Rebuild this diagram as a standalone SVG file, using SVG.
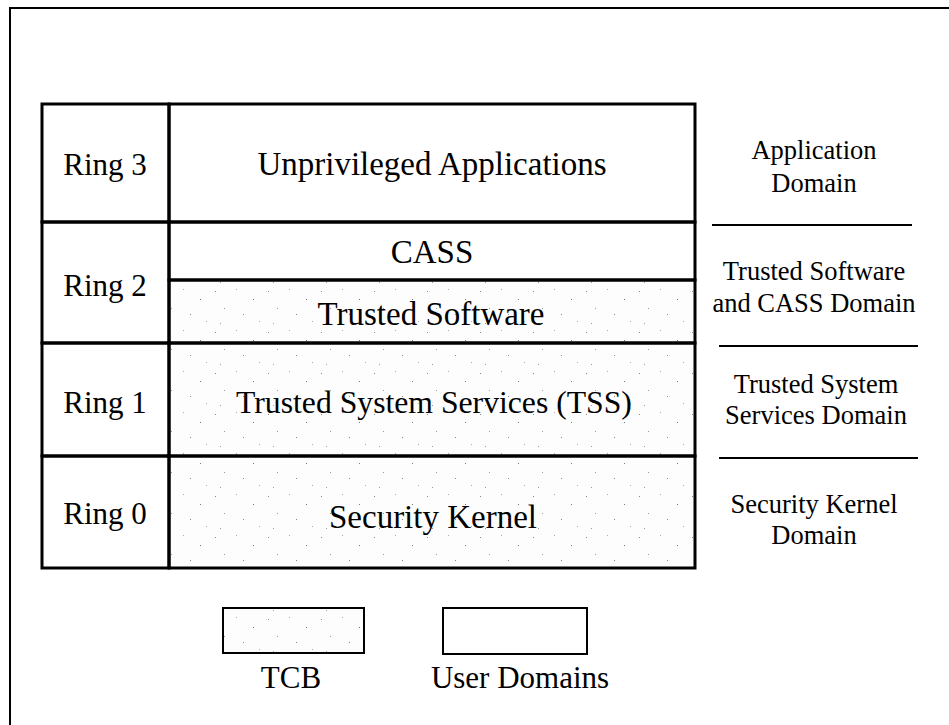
<svg xmlns="http://www.w3.org/2000/svg" width="949" height="725" viewBox="0 0 949 725">
  <style>
    text { font-family: "Liberation Serif", "Times New Roman", serif; fill: #000; text-anchor: middle; }
    .big { font-size: 31px; }
    .mid { font-size: 33px; }
    .side { font-size: 26.5px; }
    .cell { fill: none; stroke: #000; stroke-width: 3; }
    .thin { fill: none; stroke: #000; stroke-width: 2; }
    .tcb { fill: url(#speckle); }
    .tcb-key { fill: url(#speckle); stroke: #000; stroke-width: 2; }
  </style>
  <defs>
    <!-- sparse grey stipple used for the trusted computing base -->
    <pattern id="speckle" width="53" height="41" patternUnits="userSpaceOnUse">
      <rect width="53" height="41" fill="#fdfdfd"/>
      <rect x="3" y="4" width="1" height="1" fill="#888"/>
      <rect x="24" y="2" width="1" height="1" fill="#aaa"/>
      <rect x="41" y="12" width="1" height="1" fill="#777"/>
      <rect x="12" y="21" width="1" height="1" fill="#999"/>
      <rect x="31" y="27" width="1" height="1" fill="#888"/>
      <rect x="47" y="34" width="1" height="1" fill="#aaa"/>
      <rect x="8" y="36" width="1" height="1" fill="#999"/>
    </pattern>
  </defs>

  <!-- page frame -->
  <path d="M10 725 V8 H949" class="thin"/>

  <!-- shaded TCB layers -->
  <rect x="169" y="280" width="526" height="288" class="tcb"/>

  <g id="ring3">
    <rect x="42" y="104" width="127" height="118" class="cell"/>
    <text x="105" y="175" class="big">Ring 3</text>
  </g>
  <g id="apps">
    <rect x="169" y="104" width="526" height="118" class="cell"/>
    <text x="432" y="175" class="mid">Unprivileged Applications</text>
  </g>
  <g id="ring2">
    <rect x="42" y="222" width="127" height="121" class="cell"/>
    <text x="105" y="296" class="big">Ring 2</text>
  </g>
  <g id="cass">
    <rect x="169" y="222" width="526" height="58" class="cell"/>
    <text x="432" y="263" class="mid">CASS</text>
  </g>
  <g id="trusted-software">
    <rect x="169" y="280" width="526" height="63" class="cell"/>
    <text x="431" y="325" class="mid">Trusted Software</text>
  </g>
  <g id="ring1">
    <rect x="42" y="343" width="127" height="113" class="cell"/>
    <text x="105" y="413" class="big">Ring 1</text>
  </g>
  <g id="tss">
    <rect x="169" y="343" width="526" height="113" class="cell"/>
    <text x="434" y="413" font-size="31.7">Trusted System Services (TSS)</text>
  </g>
  <g id="ring0">
    <rect x="42" y="456" width="127" height="112" class="cell"/>
    <text x="105" y="524" class="big">Ring 0</text>
  </g>
  <g id="kernel">
    <rect x="169" y="456" width="526" height="112" class="cell"/>
    <text x="433" y="528" class="mid">Security Kernel</text>
  </g>

  <!-- domain labels -->
  <g id="application-domain">
    <text x="814" y="159" class="side">Application</text>
    <text x="814" y="192" class="side">Domain</text>
  </g>
  <g id="software-domain">
    <text x="814" y="280" class="side">Trusted Software</text>
    <text x="814" y="312" class="side">and CASS Domain</text>
  </g>
  <g id="tss-domain">
    <text x="816" y="393" class="side">Trusted System</text>
    <text x="816" y="424" class="side">Services Domain</text>
  </g>
  <g id="kernel-domain">
    <text x="814" y="513" class="side">Security Kernel</text>
    <text x="814" y="544" class="side">Domain</text>
  </g>

  <!-- domain separators -->
  <g id="connectors">
    <line x1="712" y1="225" x2="912" y2="225" class="thin"/>
    <line x1="719" y1="346" x2="918" y2="346" class="thin"/>
    <line x1="719" y1="458" x2="918" y2="458" class="thin"/>
  </g>

  <!-- legend -->
  <g id="legend-tcb">
    <rect x="223" y="608" width="141" height="45" class="tcb-key"/>
    <text x="291" y="688" class="big">TCB</text>
  </g>
  <g id="legend-user">
    <rect x="443" y="608" width="144" height="46" class="thin"/>
    <text x="520" y="688" class="big">User Domains</text>
  </g>
</svg>
